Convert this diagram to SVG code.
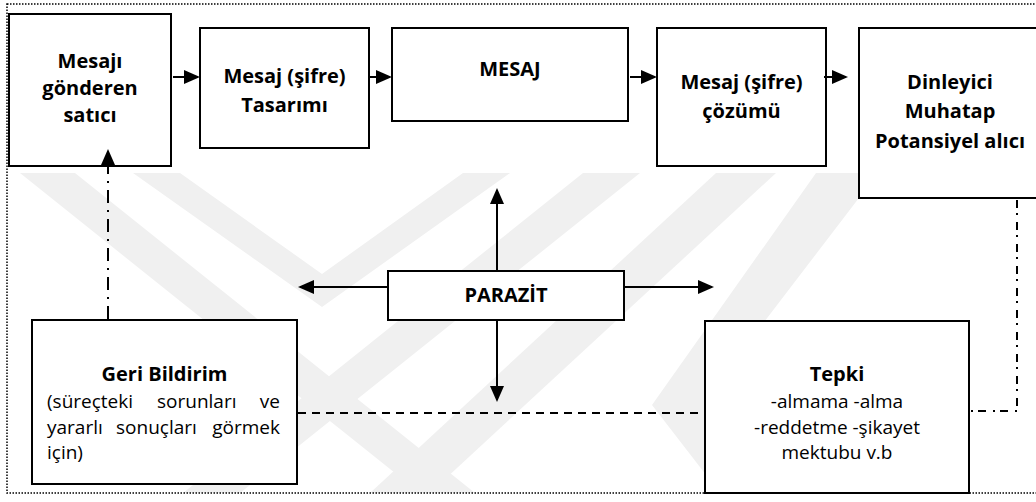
<svg xmlns="http://www.w3.org/2000/svg" width="1036" height="502" viewBox="0 0 1036 502">
<style>
.box{fill:#fff;stroke:#000;stroke-width:2}
.b{font-family:"Open Sans","Liberation Sans",sans-serif;font-weight:bold;font-size:20px;fill:#000}
.r{font-family:"Open Sans","Liberation Sans",sans-serif;font-size:19px;fill:#000}
.c{text-anchor:middle}
.line{fill:none;stroke:#000;stroke-width:2}
.dash{fill:none;stroke:#000;stroke-width:2;stroke-dasharray:8 6}
.dd1{fill:none;stroke:#000;stroke-width:2;stroke-dasharray:13 7 2 7}
.dd2{fill:none;stroke:#000;stroke-width:2;stroke-dasharray:8 5 2 7}
.wm{fill:#f0f0f0}
</style>
<defs>
<marker id="ah" markerUnits="userSpaceOnUse" markerWidth="16" markerHeight="14" refX="14" refY="7" orient="auto">
<path d="M0,0 L16,7 L0,14 z" fill="#000"/>
</marker>
</defs>
<rect width="1036" height="502" fill="#fff"/>
<g id="watermark">
<polygon class="wm" points="20,173 75,173 475,493 420,493"/>
<polygon class="wm" points="133,173 180,173 322,274 463,173 510,173 322,307"/>
<polygon class="wm" points="583,173 640,173 240,493 183,493"/>
<polygon class="wm" points="716,173 776,173 430,493 370,493"/>
<polygon class="wm" points="816,173 878,173 706,398 777,493 720,493 652,405"/>
</g>
<rect x="7" y="4" width="1040" height="489" fill="none" stroke="#000" stroke-width="1.5" stroke-dasharray="1.5 1.5"/>
<g id="n-sender">
<rect class="box" x="9" y="14" width="162" height="152"/>
<text class="b c" x="90" y="68">Mesajı</text>
<text class="b c" x="90" y="95">gönderen</text>
<text class="b c" x="90" y="122">satıcı</text>
</g>
<g id="n-encode">
<rect class="box" x="200" y="28" width="169" height="120"/>
<text class="b c" x="284.5" y="83">Mesaj (şifre)</text>
<text class="b c" x="284.5" y="112">Tasarımı</text>
</g>
<g id="n-message">
<rect class="box" x="392" y="28" width="236" height="93"/>
<text class="b c" x="510" y="76">MESAJ</text>
</g>
<g id="n-decode">
<rect class="box" x="657" y="28" width="169" height="138"/>
<text class="b c" x="741.5" y="89">Mesaj (şifre)</text>
<text class="b c" x="741.5" y="118">çözümü</text>
</g>
<g id="n-receiver">
<rect class="box" x="859" y="28" width="185" height="170"/>
<text class="b c" x="950" y="89">Dinleyici</text>
<text class="b c" x="950" y="118">Muhatap</text>
<text class="b c" x="950" y="148">Potansiyel alıcı</text>
</g>
<g id="n-noise">
<rect class="box" x="388" y="271" width="236" height="49"/>
<text class="b c" x="506" y="302">PARAZİT</text>
</g>
<g id="n-feedback">
<rect class="box" x="32" y="320" width="265" height="164"/>
<text class="b c" x="164.5" y="381">Geri Bildirim</text>
<text class="r" x="47" y="408">(süreçteki</text>
<text class="r" x="157" y="408">sorunları</text>
<text class="r" x="280" y="408" text-anchor="end">ve</text>
<text class="r" x="47" y="434">yararlı</text>
<text class="r" x="116" y="434">sonuçları</text>
<text class="r" x="280" y="434" text-anchor="end">görmek</text>
<text class="r" x="47" y="459">için)</text>
</g>
<g id="n-response">
<rect class="box" x="705" y="321" width="264" height="172"/>
<text class="b c" x="837" y="381">Tepki</text>
<text class="r c" x="837" y="408">-almama -alma</text>
<text class="r c" x="837" y="434">-reddetme -şikayet</text>
<text class="r c" x="837" y="459">mektubu v.b</text>
</g>
<g id="connectors">
<path class="line" d="M173,77 H198" marker-end="url(#ah)"/>
<path class="line" d="M369,77 H390" marker-end="url(#ah)"/>
<path class="line" d="M630,77 H655" marker-end="url(#ah)"/>
<path class="line" d="M824,77 H846" marker-end="url(#ah)"/>
<path class="line" d="M497,270 V190" marker-end="url(#ah)"/>
<path class="line" d="M497,321 V400" marker-end="url(#ah)"/>
<path class="line" d="M387,287 H300" marker-end="url(#ah)"/>
<path class="line" d="M625,287 H712" marker-end="url(#ah)"/>
<path class="dd1" d="M108,319 V151" marker-end="url(#ah)"/>
<path class="dash" d="M298,413 H704"/>
<path class="dd2" d="M1017,200 V411 H970"/>
</g>
</svg>
